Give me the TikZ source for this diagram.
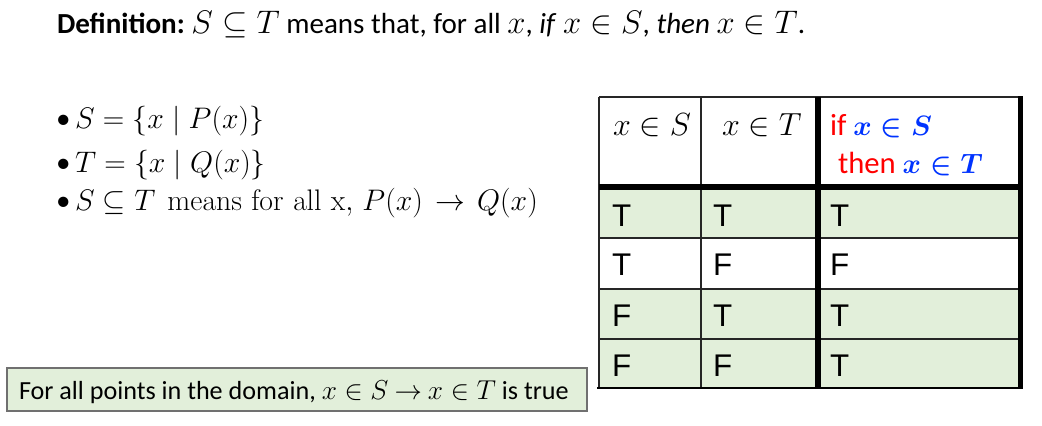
\RequirePackage{fix-cm}
\documentclass[tikz,border=0pt]{standalone}
\usepackage[no-math]{fontspec}
\setmainfont{Carlito}
\newfontfamily\arialf{Liberation Sans}
\definecolor{cellgreen}{HTML}{E2EFDA}
\definecolor{boxgray}{HTML}{707070}
\definecolor{hdrred}{HTML}{FF0000}
\definecolor{hdrblue}{HTML}{0033FF}
\newcommand\mybig[1]{{\fontsize{24.5}{27}\selectfont$#1$}}
\newcommand\mybold[1]{{\fontsize{21}{27}\selectfont\boldmath$#1$}}
\newcommand\mynotemath[1]{{\fontsize{20.5}{24}\selectfont$#1$}}
\tikzset{
  txt/.style={anchor=base west, inner sep=0pt, outer sep=0pt},
  titlefont/.style={font=\fontsize{21.8}{25}\selectfont},
  notefont/.style={font=\fontsize{19.6}{24}\selectfont},
  mathfont/.style={font=\fontsize{22.3}{27}\selectfont},
  hdrfont/.style={font=\fontsize{23}{27}\selectfont},
  hdrmath/.style={font=\fontsize{24}{27}\selectfont},
  cellfont/.style={font=\arialf\fontsize{23.5}{28}\selectfont},
  thinline/.style={line width=1.3pt, draw=black!85},
  thickline/.style={line width=3.8pt, draw=black},
}
\begin{document}
\begin{tikzpicture}[x=0.75pt,y=-0.75pt]
\useasboundingbox (0,0) rectangle (1042,425);
% title
\node[txt, titlefont] (title) at (57,33) {\textbf{Definition:}\ \mybig{S\subseteq T} means that, for all \mybig{x}, \textit{if} \mybig{x\in S}, \textit{then} \mybig{x\in T}.};
% bullets
\node[txt, titlefont] (b1) at (56,128) {\textbullet};
\node[txt, titlefont] (b2) at (56,172) {\textbullet};
\node[txt, titlefont] (b3) at (56,210) {\textbullet};
\node[txt, mathfont] (l1) at (75,128) {$S=\{x\mid P(x)\}$};
\node[txt, mathfont] (l2) at (75,172) {$T=\{x\mid Q(x)\}$};
\node[txt, mathfont] (l3) at (75,210) {$S\subseteq T\ \hspace{4pt}\mathrm{means\ \hspace{2pt}for\ \hspace{2pt}all\ \hspace{2pt}x,}\,\hspace{3pt}P(x)\hspace{3pt}\rightarrow\hspace{3pt} Q(x)$};
% table fills
\fill[cellgreen] (599,187) rectangle (1020,238);
\fill[cellgreen] (599,289) rectangle (1020,388);
% thin lines
\draw[thinline] (599,97) -- (1020,97);
\draw[thinline] (599,238) -- (1020,238);
\draw[thinline] (599,289) -- (1020,289);
\draw[thinline] (599,339) -- (1020,339);
\draw[thinline] (599,97) -- (599,388);
\draw[thinline] (701,97) -- (701,388);
% thick lines
\draw[thickline] (599,187) -- (1022,187);
\draw[thickline] (818,97) -- (818,389);
\draw[thickline] (1020.5,96) -- (1020.5,389);
\draw[line width=2pt] (597,388) -- (1022,388);
% header
\node[txt, hdrmath] (h1) at (613,135) {$x\in S$};
\node[txt, hdrmath] (h2) at (722,135) {$x\in T$};
\node[txt, hdrfont, text=hdrred] (h3a) at (830,135) {if {\color{hdrblue}\mybold{x\in S}}};
\node[txt, hdrfont, text=hdrred] (h3b) at (838,173) {then {\color{hdrblue}\mybold{x\in T}}};
% cells
\node[txt, cellfont] (c11) at (612,226) {T};
\node[txt, cellfont] (c12) at (713,226) {T};
\node[txt, cellfont] (c13) at (830,226) {T};
\node[txt, cellfont] (c21) at (612,275) {T};
\node[txt, cellfont] (c22) at (713,275) {F};
\node[txt, cellfont] (c23) at (830,275) {F};
\node[txt, cellfont] (c31) at (612,326) {F};
\node[txt, cellfont] (c32) at (713,326) {T};
\node[txt, cellfont] (c33) at (830,326) {T};
\node[txt, cellfont] (c41) at (612,376) {F};
\node[txt, cellfont] (c42) at (713,376) {F};
\node[txt, cellfont] (c43) at (830,376) {T};
% bottom box
\draw[fill=cellgreen, draw=boxgray, line width=1.3pt] (7,368) rectangle (587,411);
\node[txt, notefont] (note) at (19,399) {For all points in the domain, \mynotemath{x\in S\mathbin{\rightarrow} x\in T} is true};
\end{tikzpicture}
\end{document}
